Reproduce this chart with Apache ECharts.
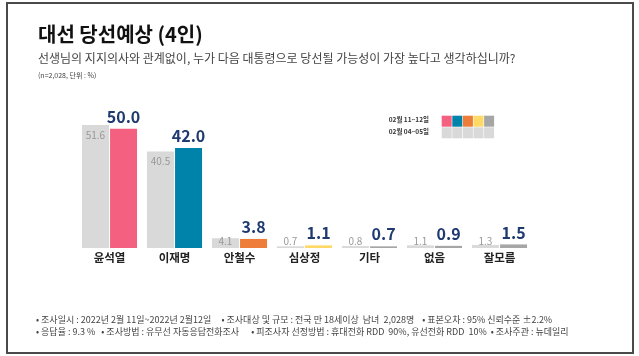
<!DOCTYPE html>
<html>
<head>
<meta charset="utf-8">
<script src="https://cdn.jsdelivr.net/npm/echarts@6/dist/echarts.min.js"></script>
<style>
html,body{margin:0;padding:0;background:#fff;}
#chart{width:639px;height:356px;}
</style>
</head>
<body>
<div id="chart"></div>
<script>
// ---- data ----
var categories = ['윤석열', '이재명', '안철수', '심상정', '기타', '없음', '잘모름'];
var prevValues = [51.6, 40.5, 4.1, 0.7, 0.8, 1.1, 1.3];   // 02월 04~05일
var currValues = [50.0, 42.0, 3.8, 1.1, 0.7, 0.9, 1.5];   // 02월 11~12일
var legendLabels = ['02월 11~12일', '02월 04~05일'];
var titleText = '대선 당선예상 (4인)';
var subtitleText = '선생님의 지지의사와 관계없이, 누가 다음 대통령으로 당선될 가능성이 가장 높다고 생각하십니까?';
var noteText = '(n=2,028, 단위 : %)';
var footerLines = [
  '• 조사일시 : 2022년 2월 11일~2022년 2월12일     • 조사대상 및 규모 : 전국 만 18세이상  남녀  2,028명    • 표본오차 : 95% 신뢰수준 ±2.2%',
  '• 응답율 : 9.3 %   • 조사방법 : 유무선 자동응답전화조사      • 피조사자 선정방법 : 휴대전화 RDD  90%, 유선전화 RDD  10%  • 조사주관 : 뉴데일리'
];

// ---- styles ----
var currColors = ['#f4607f', '#0083ab', '#ee7d3a', '#ffd966', '#a6a6a6', '#a6a6a6', '#a6a6a6'];
var legendColors = ['#f4607f', '#0083ab', '#ee7d3a', '#ffd966', '#a6a6a6'];
var prevColor = '#d9d9d9';
var FONT = "'Noto Sans CJK KR', 'Noto Sans', sans-serif";

var prevData = prevValues.map(function (v) {
  var big = v > 10;
  return {
    value: v,
    label: { position: big ? 'insideTop' : 'insideBottom', distance: big ? 5 : 2 }
  };
});
var currData = currValues.map(function (v, i) {
  return { value: v, itemStyle: { color: currColors[i] } };
});

var graphics = [
  { type: 'rect', shape: { x: 7, y: 3, width: 626, height: 350 }, style: { fill: 'none', stroke: '#4a4a4a', lineWidth: 2 }, z: 10 },
  { type: 'text', left: 38, top: 24, style: { text: titleText, font: 'bold 20px ' + FONT, fill: '#111' } },
  { type: 'text', left: 38, top: 52, style: { text: subtitleText, font: '12px ' + FONT, fill: '#444' } },
  { type: 'text', left: 38, top: 72, style: { text: noteText, font: '7px ' + FONT, fill: '#444' } },
  { type: 'text', x: 429, y: 120, style: { text: legendLabels[0], font: 'bold 6.5px ' + FONT, fill: '#333', align: 'right', verticalAlign: 'middle' } },
  { type: 'text', x: 429, y: 132, style: { text: legendLabels[1], font: 'bold 6.5px ' + FONT, fill: '#333', align: 'right', verticalAlign: 'middle' } }
];
legendColors.forEach(function (c, i) {
  graphics.push({ type: 'rect', shape: { x: 441.7 + i * 10.6, y: 115.7, width: 10, height: 11 }, style: { fill: c } });
  graphics.push({ type: 'rect', shape: { x: 441.7 + i * 10.6, y: 127.3, width: 10, height: 11 }, style: { fill: prevColor } });
});
footerLines.forEach(function (t, i) {
  graphics.push({ type: 'text', x: 36, y: 320 + i * 12, style: { text: t, font: '9px ' + FONT, fill: '#444', verticalAlign: 'middle' } });
});

var chart = echarts.init(document.getElementById('chart'), null, { renderer: 'canvas' });
chart.setOption({
  animation: false,
  backgroundColor: '#fff',
  textStyle: { fontFamily: FONT },
  grid: { left: 77, top: 105, width: 455, height: 143 },
  xAxis: {
    type: 'category',
    data: categories,
    axisLine: { show: false },
    axisTick: { show: false },
    axisLabel: { color: '#222', fontWeight: 'bold', fontSize: 11.5, margin: 4, fontFamily: FONT }
  },
  yAxis: {
    type: 'value', min: 0, max: 60,
    show: false,
    splitLine: { show: false }
  },
  series: [
    {
      name: legendLabels[1],
      type: 'bar',
      data: prevData,
      barWidth: 27,
      barGap: '4%',
      itemStyle: { color: prevColor },
      label: { show: true, color: '#999', fontSize: 10, fontFamily: FONT, formatter: function (p) { return p.value.toFixed(1); } }
    },
    {
      name: legendLabels[0],
      type: 'bar',
      data: currData,
      barWidth: 27,
      label: { show: true, position: 'top', distance: 4, color: '#1f3a70', fontSize: 16, fontWeight: 'bold', fontFamily: FONT, formatter: function (p) { return p.value.toFixed(1); } }
    }
  ],
  graphic: graphics
});
</script>
</body>
</html>
